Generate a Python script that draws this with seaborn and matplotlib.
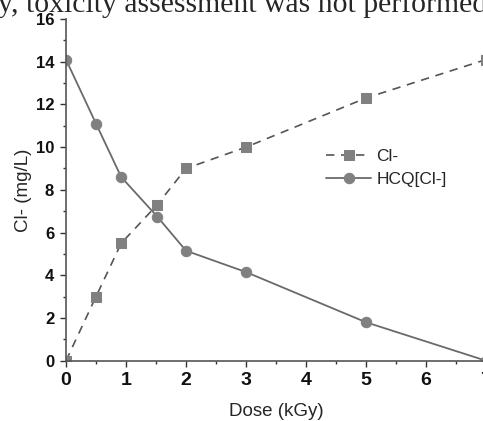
import matplotlib
matplotlib.use("Agg")
import matplotlib.pyplot as plt
import seaborn as sns
import numpy as np
import pandas as pd
from matplotlib.ticker import MultipleLocator

dose = [0, 0.5, 0.92, 1.52, 2, 3, 5, 7]
cl_values = [0, 3.0, 5.5, 7.3, 9.0, 10.0, 12.3, 14.1]
hcq_values = [14.1, 11.1, 8.6, 6.75, 5.15, 4.15, 1.8, 0.0]
series_names = ["Cl-", "HCQ[Cl-]"]

sns.set_theme(style="ticks")
plt.rcParams['font.family'] = ['Liberation Sans', 'DejaVu Sans']

fig = plt.figure(figsize=(4.83, 4.21), dpi=100)
ax = fig.add_axes([66/483, 60.3/421, (486-66)/483, (360.7-19)/421])

line_col = "#6a6a6a"
mk_col = "#808080"

sns.lineplot(x=dose, y=cl_values, ax=ax, color="#555555", linestyle=(0, (5, 4)), lw=1.2,
             marker="s", markersize=6.5, markerfacecolor=mk_col, markeredgecolor=mk_col,
             label=series_names[0])
sns.lineplot(x=dose, y=hcq_values, ax=ax, color=line_col, linestyle="-", lw=1.3,
             marker="o", markersize=7.5, markerfacecolor=mk_col, markeredgecolor=mk_col,
             label=series_names[1])

ax.set_xlim(0, 7)
ax.set_ylim(0, 16)
ax.xaxis.set_major_locator(MultipleLocator(1))
ax.xaxis.set_minor_locator(MultipleLocator(0.5))
ax.yaxis.set_major_locator(MultipleLocator(2))
ax.yaxis.set_minor_locator(MultipleLocator(1))
ax.tick_params(which="major", direction="out", length=4.5, width=1, color="#333333")
ax.tick_params(which="minor", direction="out", length=2.5, width=1, color="#333333")
ax.tick_params(axis="y", which="major", labelsize=12, pad=4)
ax.tick_params(axis="x", which="major", labelsize=14, pad=3.5)
for lab in ax.get_xticklabels() + ax.get_yticklabels():
    lab.set_fontweight("bold")
    lab.set_color("#111111")

for s in ["top", "right"]:
    ax.spines[s].set_visible(False)
for s in ["left", "bottom"]:
    ax.spines[s].set_color("#555555")
    ax.spines[s].set_linewidth(1.2)

ax.set_xlabel("Dose (kGy)", fontsize=13.5, labelpad=10)
ax.set_ylabel("Cl- (mg/L)", fontsize=13.5, labelpad=2.5)

leg = ax.legend(loc="upper left", bbox_to_anchor=(314/483, 1 - 137/421),
                bbox_transform=fig.transFigure, frameon=False, fontsize=12.5,
                handlelength=2.6, handletextpad=0.3, labelspacing=0.45, borderpad=0.2)

fig.text(-0.004, 1 - 11.5/421, "y, toxicity assessment was not performed",
         fontsize=21.4, family="Liberation Serif", va="baseline", ha="left")

fig.savefig("out.png", dpi=100)
